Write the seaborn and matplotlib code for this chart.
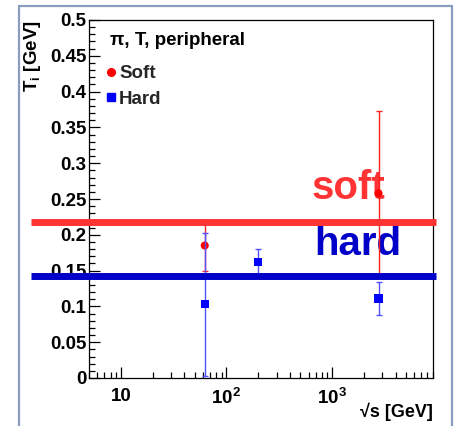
import matplotlib
matplotlib.use("Agg")
import matplotlib.pyplot as plt
from matplotlib.lines import Line2D
from matplotlib.patches import Rectangle
from matplotlib.ticker import MultipleLocator, LogLocator, NullFormatter
import pandas as pd
import seaborn as sns

# Fitted temperatures (GeV) of the soft and hard components vs collision energy
sqrt_s_soft = [62.4, 2760.0]
temp_soft = [0.185, 0.258]
err_soft = [0.036, 0.115]

sqrt_s_hard = [62.4, 200.0, 2760.0]
temp_hard = [0.103, 0.1625, 0.111]
err_hard = [0.100, 0.0175, 0.023]

# Average levels of each component
level_soft = 0.2175
level_hard = 0.1425

y_ticks = [0.0, 0.05, 0.1, 0.15, 0.2, 0.25, 0.3, 0.35, 0.4, 0.45, 0.5]
y_tick_labels = ["0", "0.05", "0.1", "0.15", "0.2", "0.25", "0.3", "0.35", "0.4", "0.45", "0.5"]
x_ticks = [10, 100, 1000]
x_tick_labels = ["10", "$10^{2}$", "$10^{3}$"]

sns.set_theme(style="white")
plt.rcParams["font.family"] = ["Liberation Sans", "DejaVu Sans"]
plt.rcParams["font.weight"] = "bold"
plt.rcParams["axes.labelweight"] = "bold"
plt.rcParams["mathtext.fontset"] = "custom"
plt.rcParams["mathtext.rm"] = "Liberation Sans:bold"
plt.rcParams["mathtext.it"] = "Liberation Sans:italic:bold"
plt.rcParams["mathtext.bf"] = "Liberation Sans:bold"

df = pd.DataFrame({
    "sqrt_s": sqrt_s_soft + sqrt_s_hard,
    "T": temp_soft + temp_hard,
    "err": err_soft + err_hard,
    "component": ["Soft"] * len(sqrt_s_soft) + ["Hard"] * len(sqrt_s_hard),
})

marker_colors = {"Soft": "#ff0000", "Hard": "#0000ff"}
bar_colors = {"Soft": "#ff2020", "Hard": "#5050ff"}
marker_shapes = {"Soft": "o", "Hard": "s"}

fig = plt.figure(figsize=(4.57, 4.26), dpi=100)
fig.patch.set_facecolor("white")

# Slide-style outer frame
fig.patches.append(Rectangle((19 / 457, -0.05), (452 - 19) / 457, (426 - 6) / 426 + 0.05,
                             transform=fig.transFigure, fill=False,
                             edgecolor="#8a9cbf", linewidth=1.6))

ax = fig.add_axes([89 / 457, 48 / 426, 343.7 / 457, 358 / 426])
ax.set_facecolor("white")

z = 3
for comp in ["Soft", "Hard"]:
    sub = df[df["component"] == comp]
    ax.errorbar(sub["sqrt_s"], sub["T"], yerr=sub["err"], fmt="none",
                ecolor=bar_colors[comp], elinewidth=1.0, capsize=2.5, capthick=1.0,
                zorder=z)
    sns.scatterplot(data=sub, x="sqrt_s", y="T", marker=marker_shapes[comp],
                    color=marker_colors[comp], s=34, edgecolor="none",
                    legend=False, ax=ax, zorder=z + 0.5)
    z += 1

# Component levels, running past the frame on both sides
ax.axhline(level_soft, xmin=-0.169, xmax=1.0096, color="#ff3333", lw=5,
           solid_capstyle="butt", clip_on=False, zorder=6)
ax.axhline(level_hard, xmin=-0.169, xmax=1.0096, color="#0000c8", lw=5,
           solid_capstyle="butt", clip_on=False, zorder=6)

ax.text(638, 0.25, "soft", color="#ff3333", fontsize=29, fontweight="bold",
        ha="left", va="baseline", zorder=2)
ax.text(686, 0.172, "hard", color="#0000c8", fontsize=29, fontweight="bold",
        ha="left", va="baseline", zorder=2)

ax.set_xscale("log")
ax.set_xlim(5, 9000)
ax.set_ylim(0, 0.5)
ax.set_xticks(x_ticks, labels=x_tick_labels)
ax.xaxis.set_minor_locator(LogLocator(base=10, subs=range(2, 10)))
ax.xaxis.set_minor_formatter(NullFormatter())
ax.set_yticks(y_ticks, labels=y_tick_labels)
ax.yaxis.set_minor_locator(MultipleLocator(0.01))

ax.tick_params(axis="both", which="both", bottom=True, left=True, top=False, right=False)
ax.tick_params(axis="both", which="major", direction="in", length=8, width=0.9,
               color="black", labelsize=13.5, labelcolor="black")
ax.tick_params(axis="both", which="minor", direction="in", length=4, width=0.9,
               color="black")
ax.tick_params(axis="x", which="major", pad=7)
ax.tick_params(axis="y", which="major", pad=2)
for sp in ax.spines.values():
    sp.set_visible(True)
    sp.set_color("black")
    sp.set_linewidth(0.9)

ax.set_ylabel(r"$\mathrm{T_{i}}$ [GeV]", fontsize=13.5, fontweight="bold",
              color="black", loc="top")
ax.yaxis.set_label_coords(-0.134, 1.0)
ax.set_xlabel("√s [GeV]", fontsize=13, fontweight="bold", color="black", loc="right")
ax.xaxis.set_label_coords(1.0, -0.07)

ax.text(0.061, 0.944, "π, T, peripheral", transform=ax.transAxes, fontsize=13.5,
        fontweight="bold", ha="left", va="center", color="black")
handles = [
    Line2D([], [], marker="o", color=marker_colors["Soft"], ls="none", markersize=5.5),
    Line2D([], [], marker="s", color=marker_colors["Hard"], ls="none", markersize=5.5),
]
ax.legend(handles, ["Soft", "Hard"], loc="upper left", bbox_to_anchor=(0.047, 0.874),
          frameon=False, fontsize=13.5, handlelength=0.6, handletextpad=0.15,
          labelspacing=0.45, borderpad=0, borderaxespad=0)

fig.savefig("out.png", dpi=100, facecolor="white")
